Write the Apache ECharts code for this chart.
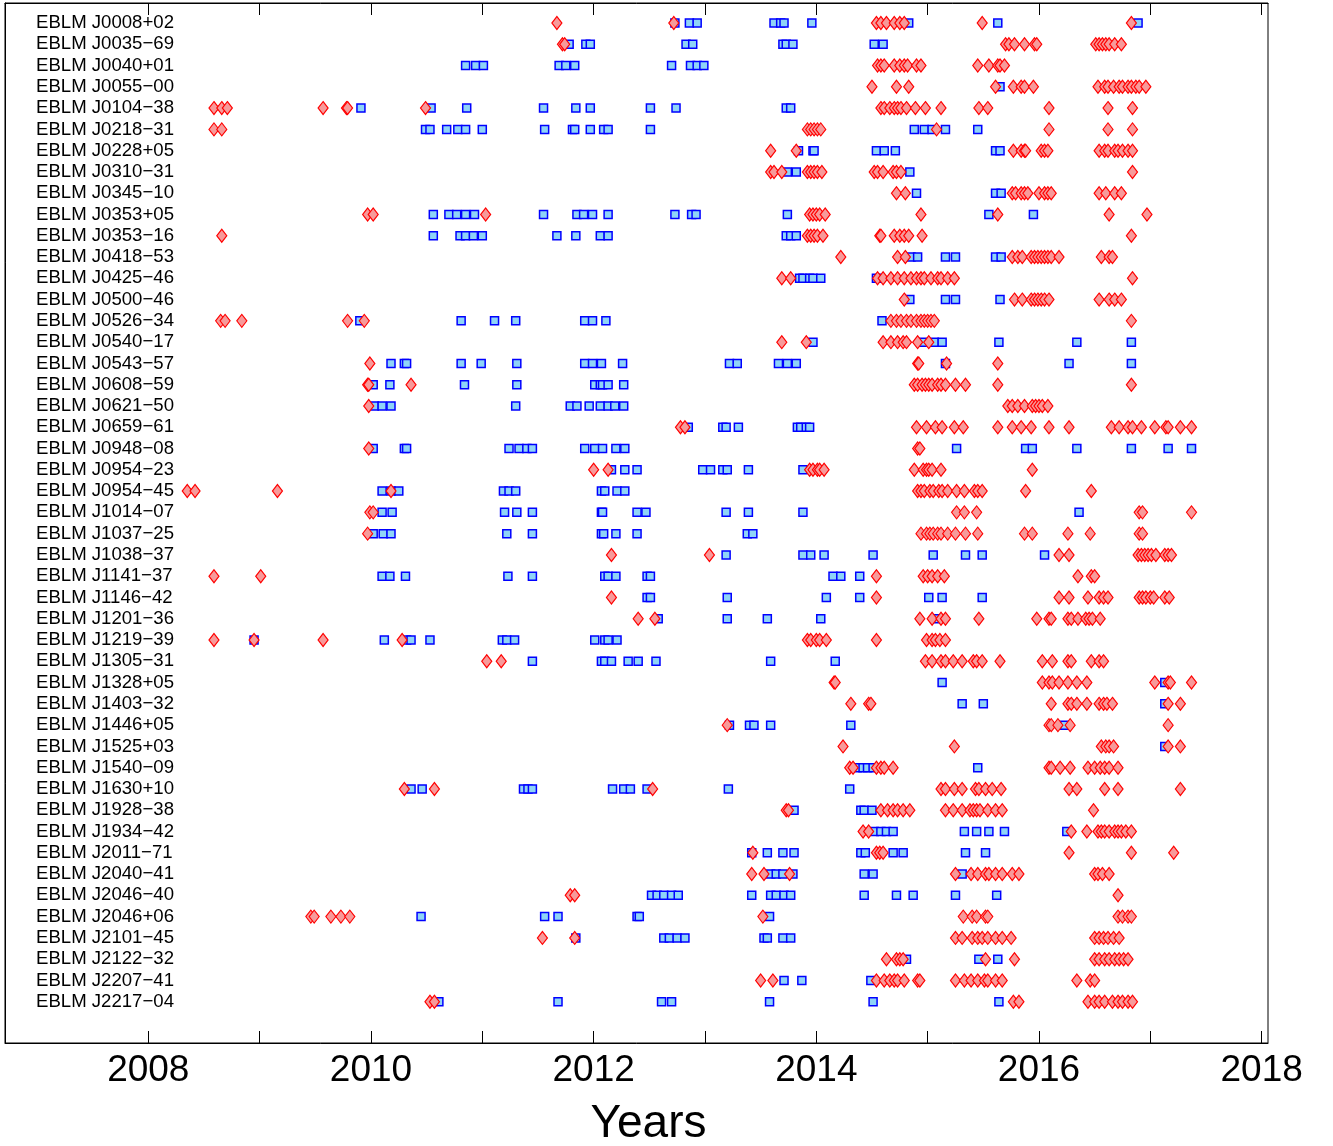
<!DOCTYPE html>
<html>
<head>
<meta charset="utf-8">
<script src="https://cdn.jsdelivr.net/npm/echarts@6/dist/echarts.min.js"></script>
<style>html,body{margin:0;padding:0;background:#fff;}#c{width:1333px;height:1146px;}</style>
</head>
<body>
<div id="c"></div>
<script>
const names = ["EBLM J0008+02","EBLM J0035\u221269","EBLM J0040+01","EBLM J0055\u221200","EBLM J0104\u221238","EBLM J0218\u221231","EBLM J0228+05","EBLM J0310\u221231","EBLM J0345\u221210","EBLM J0353+05","EBLM J0353\u221216","EBLM J0418\u221253","EBLM J0425\u221246","EBLM J0500\u221246","EBLM J0526\u221234","EBLM J0540\u221217","EBLM J0543\u221257","EBLM J0608\u221259","EBLM J0621\u221250","EBLM J0659\u221261","EBLM J0948\u221208","EBLM J0954\u221223","EBLM J0954\u221245","EBLM J1014\u221207","EBLM J1037\u221225","EBLM J1038\u221237","EBLM J1141\u221237","EBLM J1146\u221242","EBLM J1201\u221236","EBLM J1219\u221239","EBLM J1305\u221231","EBLM J1328+05","EBLM J1403\u221232","EBLM J1446+05","EBLM J1525+03","EBLM J1540\u221209","EBLM J1630+10","EBLM J1928\u221238","EBLM J1934\u221242","EBLM J2011\u221271","EBLM J2040\u221241","EBLM J2046\u221240","EBLM J2046+06","EBLM J2101\u221245","EBLM J2122\u221232","EBLM J2207\u221241","EBLM J2217\u221204"];

// observation epochs (decimal years), one list per target
const blueTimes = [
[2012.73,2012.86,2012.93,2013.62,2013.68,2013.71,2013.96,2014.83,2015.63,2016.89],
[2011.78,2011.93,2011.97,2012.83,2012.89,2013.70,2013.73,2013.79,2014.52,2014.60],
[2010.85,2010.94,2011.01,2011.69,2011.75,2011.83,2012.70,2012.87,2012.93,2012.99],
[2015.65],
[2009.91,2010.54,2010.86,2011.55,2011.84,2011.97,2012.51,2012.74,2013.73,2013.77],
[2010.49,2010.53,2010.68,2010.78,2010.85,2011.00,2011.56,2011.81,2011.83,2011.97,2012.09,2012.13,2012.51,2014.88,2014.97,2015.04,2015.16,2015.45],
[2013.84,2013.97,2013.98,2014.54,2014.61,2014.71,2015.61,2015.65],
[2013.74,2013.82,2014.84],
[2014.90,2015.61,2015.66,2015.88],
[2010.56,2010.70,2010.77,2010.85,2010.93,2011.55,2011.85,2011.91,2011.99,2012.13,2012.73,2012.88,2012.92,2013.74,2015.55,2015.95],
[2010.56,2010.80,2010.85,2010.92,2011.00,2011.67,2011.84,2012.06,2012.13,2013.73,2013.77,2013.82],
[2014.85,2014.91,2015.16,2015.25,2015.61,2015.66],
[2013.85,2013.88,2013.94,2013.97,2014.04,2014.54],
[2014.84,2015.16,2015.25,2015.65],
[2009.90,2010.81,2011.11,2011.30,2011.92,2011.99,2012.11,2014.59],
[2013.97,2014.96,2015.06,2015.13,2015.64,2016.34,2016.83],
[2010.18,2010.30,2010.32,2010.81,2010.99,2011.31,2011.92,2011.99,2012.07,2012.26,2013.22,2013.29,2013.66,2013.74,2013.82,2015.16,2016.27,2016.83],
[2010.02,2010.17,2010.84,2011.31,2012.01,2012.06,2012.08,2012.13,2012.27],
[2010.03,2010.10,2010.18,2011.30,2011.79,2011.85,2011.96,2012.06,2012.13,2012.19,2012.27],
[2012.85,2013.16,2013.19,2013.30,2013.83,2013.86,2013.91,2013.94],
[2010.02,2010.30,2010.32,2011.24,2011.33,2011.40,2011.45,2011.92,2012.01,2012.08,2012.20,2012.28,2015.26,2015.88,2015.94,2016.34,2016.83,2017.16,2017.37],
[2012.16,2012.28,2012.39,2012.98,2013.05,2013.16,2013.20,2013.39,2013.88],
[2010.10,2010.18,2010.25,2011.19,2011.24,2011.30,2012.07,2012.10,2012.21,2012.28],
[2010.10,2010.19,2011.20,2011.31,2011.45,2012.07,2012.08,2012.39,2012.47,2013.19,2013.39,2013.88,2016.36],
[2010.02,2010.11,2010.18,2011.22,2011.45,2012.07,2012.09,2012.20,2012.39,2013.38,2013.43],
[2013.19,2013.88,2013.95,2014.07,2014.51,2015.05,2015.34,2015.49,2016.05],
[2010.10,2010.17,2010.31,2011.23,2011.45,2012.10,2012.13,2012.20,2012.48,2012.51,2014.15,2014.22,2014.39],
[2012.48,2012.51,2013.20,2014.09,2014.39,2015.01,2015.13,2015.49],
[2012.58,2013.20,2013.56,2014.04,2015.08],
[2008.95,2010.12,2010.32,2010.36,2010.53,2011.18,2011.22,2011.29,2012.01,2012.10,2012.13,2012.21],
[2011.45,2012.07,2012.10,2012.16,2012.31,2012.40,2012.56,2013.59,2014.17],
[2015.13,2017.13],
[2015.31,2015.50,2017.13],
[2013.22,2013.40,2013.44,2013.59,2014.31,2016.23],
[2017.13],
[2014.37,2014.42,2014.46,2014.51,2015.45],
[2010.36,2010.46,2011.37,2011.41,2011.45,2012.17,2012.27,2012.33,2012.48,2013.21,2014.30],
[2013.80,2014.40,2014.43,2014.50],
[2014.52,2014.58,2014.63,2014.69,2015.33,2015.44,2015.55,2015.69,2016.25],
[2013.42,2013.56,2013.70,2013.80,2014.40,2014.44,2014.69,2014.78,2015.34,2015.52],
[2013.59,2013.64,2013.70,2013.79,2014.43,2014.51,2015.31],
[2012.52,2012.57,2012.63,2012.70,2012.76,2013.42,2013.59,2013.64,2013.71,2013.77,2014.43,2014.72,2014.87,2015.25,2015.62],
[2010.45,2011.56,2011.68,2012.39,2012.41,2013.58],
[2011.84,2012.63,2012.68,2012.75,2012.82,2013.53,2013.56,2013.70,2013.77],
[2014.81,2015.46,2015.63],
[2013.71,2013.87,2014.49],
[2010.61,2011.68,2012.61,2012.70,2013.58,2014.51,2015.64]
];

const redTimes = [
[2011.67,2012.72,2014.54,2014.58,2014.63,2014.70,2014.75,2014.79,2015.49,2016.83],
[2011.72,2011.74,2015.70,2015.73,2015.78,2015.87,2015.96,2015.98,2016.51,2016.54,2016.57,2016.60,2016.63,2016.68,2016.74],
[2014.55,2014.58,2014.61,2014.70,2014.75,2014.79,2014.82,2014.90,2014.94,2015.45,2015.55,2015.63,2015.65,2015.69],
[2014.50,2014.72,2014.83,2015.61,2015.77,2015.84,2015.87,2015.95,2016.53,2016.59,2016.62,2016.67,2016.72,2016.75,2016.80,2016.83,2016.87,2016.90,2016.96],
[2008.59,2008.66,2008.71,2009.57,2009.78,2009.79,2010.49,2014.58,2014.61,2014.66,2014.70,2014.73,2014.76,2014.81,2014.89,2014.98,2015.12,2015.46,2015.54,2016.09,2016.62,2016.84],
[2008.59,2008.66,2013.92,2013.95,2013.98,2014.01,2014.04,2015.08,2016.09,2016.62,2016.84],
[2013.59,2013.82,2015.77,2015.84,2015.87,2015.88,2016.02,2016.05,2016.08,2016.54,2016.59,2016.62,2016.68,2016.71,2016.75,2016.80,2016.84],
[2013.59,2013.62,2013.69,2013.92,2013.95,2013.98,2014.01,2014.05,2014.52,2014.55,2014.60,2014.69,2014.72,2014.76,2016.84],
[2014.72,2014.80,2015.76,2015.79,2015.84,2015.87,2015.90,2016.00,2016.05,2016.08,2016.11,2016.54,2016.60,2016.68,2016.74],
[2009.97,2010.02,2011.03,2013.94,2013.97,2014.00,2014.03,2014.08,2014.94,2015.63,2016.63,2016.97],
[2008.66,2013.92,2013.95,2013.98,2014.01,2014.06,2014.57,2014.58,2014.70,2014.75,2014.79,2014.83,2014.95,2016.83],
[2014.22,2014.73,2014.80,2015.76,2015.81,2015.85,2015.93,2015.96,2015.99,2016.02,2016.05,2016.08,2016.11,2016.18,2016.56,2016.63,2016.66],
[2013.69,2013.77,2014.55,2014.60,2014.67,2014.73,2014.79,2014.85,2014.90,2014.94,2014.97,2015.03,2015.09,2015.12,2015.18,2015.24,2016.84],
[2014.79,2015.78,2015.85,2015.93,2015.96,2015.99,2016.02,2016.05,2016.09,2016.54,2016.63,2016.68,2016.74],
[2008.65,2008.69,2008.84,2009.79,2009.94,2014.67,2014.72,2014.76,2014.81,2014.85,2014.90,2014.94,2014.97,2015.00,2015.03,2015.06,2016.83],
[2013.69,2013.91,2014.60,2014.67,2014.73,2014.78,2014.81,2014.91,2015.01],
[2009.99,2014.91,2014.92,2015.17,2015.63],
[2009.97,2009.98,2010.36,2014.88,2014.91,2014.95,2014.98,2015.01,2015.04,2015.09,2015.12,2015.16,2015.25,2015.34,2015.63,2016.83],
[2009.98,2015.72,2015.76,2015.81,2015.87,2015.94,2015.97,2016.00,2016.03,2016.08],
[2012.78,2012.82,2014.90,2014.99,2015.07,2015.13,2015.24,2015.32,2015.63,2015.76,2015.84,2015.93,2016.09,2016.27,2016.65,2016.72,2016.80,2016.84,2016.92,2017.04,2017.14,2017.16,2017.27,2017.37],
[2009.98,2014.91,2014.93],
[2012.00,2012.13,2013.94,2013.97,2014.01,2014.03,2014.07,2014.88,2014.96,2014.99,2015.01,2015.04,2015.12,2015.94],
[2008.35,2008.42,2009.16,2010.18,2014.91,2014.94,2014.97,2015.02,2015.05,2015.10,2015.13,2015.18,2015.26,2015.33,2015.42,2015.45,2015.49,2015.88,2016.47],
[2009.99,2010.02,2015.26,2015.33,2015.44,2016.90,2016.93,2017.37],
[2009.97,2014.94,2014.99,2015.02,2015.05,2015.09,2015.12,2015.18,2015.25,2015.34,2015.45,2015.87,2015.94,2016.26,2016.46,2016.90,2016.93],
[2012.16,2013.04,2016.18,2016.27,2016.89,2016.92,2016.95,2016.98,2017.01,2017.05,2017.13,2017.16,2017.19],
[2008.59,2009.01,2014.54,2014.96,2015.00,2015.04,2015.09,2015.15,2016.35,2016.47,2016.50],
[2012.16,2014.54,2016.18,2016.27,2016.44,2016.54,2016.58,2016.62,2016.90,2016.93,2016.96,2017.00,2017.03,2017.13,2017.17],
[2012.40,2012.55,2014.93,2015.04,2015.12,2015.16,2015.46,2015.98,2016.09,2016.11,2016.26,2016.29,2016.35,2016.42,2016.45,2016.48,2016.55],
[2008.59,2008.95,2009.57,2010.28,2013.92,2013.95,2014.00,2014.03,2014.09,2014.54,2014.99,2015.04,2015.07,2015.11,2015.16],
[2011.04,2011.17,2014.98,2015.04,2015.12,2015.16,2015.23,2015.31,2015.41,2015.44,2015.49,2015.65,2016.03,2016.12,2016.26,2016.29,2016.47,2016.54,2016.58],
[2014.16,2014.17,2016.03,2016.09,2016.12,2016.18,2016.26,2016.34,2016.43,2017.04,2017.16,2017.18,2017.37],
[2014.31,2014.47,2014.49,2016.11,2016.26,2016.29,2016.34,2016.43,2016.54,2016.58,2016.61,2016.66,2017.16,2017.27],
[2013.20,2016.09,2016.11,2016.17,2016.28,2017.16],
[2014.24,2015.24,2016.56,2016.60,2016.63,2016.67,2017.16,2017.27],
[2014.30,2014.33,2014.54,2014.58,2014.61,2014.69,2016.09,2016.11,2016.19,2016.28,2016.44,2016.50,2016.55,2016.59,2016.63,2016.71],
[2010.30,2010.57,2012.53,2015.12,2015.16,2015.24,2015.31,2015.43,2015.46,2015.52,2015.58,2015.66,2016.27,2016.34,2016.59,2016.71,2017.27],
[2013.73,2013.75,2014.58,2014.64,2014.69,2014.73,2014.78,2014.84,2015.16,2015.23,2015.31,2015.38,2015.41,2015.44,2015.47,2015.54,2015.61,2015.67,2016.49],
[2014.42,2014.47,2016.29,2016.43,2016.53,2016.56,2016.59,2016.63,2016.68,2016.71,2016.74,2016.78,2016.83],
[2013.43,2014.54,2014.57,2014.60,2016.27,2016.83,2017.21],
[2013.42,2013.53,2013.76,2015.25,2015.39,2015.45,2015.52,2015.55,2015.61,2015.67,2015.76,2015.82,2016.50,2016.53,2016.57,2016.63],
[2011.79,2011.83,2016.71],
[2009.46,2009.49,2009.64,2009.73,2009.81,2013.52,2015.32,2015.40,2015.44,2015.52,2015.54,2016.71,2016.75,2016.80,2016.83],
[2011.54,2011.83,2015.25,2015.31,2015.40,2015.45,2015.49,2015.54,2015.61,2015.67,2015.75,2016.50,2016.54,2016.58,2016.62,2016.67,2016.72],
[2014.63,2014.72,2014.75,2014.78,2015.52,2015.78,2016.50,2016.54,2016.59,2016.63,2016.68,2016.72,2016.76,2016.80],
[2013.50,2013.61,2014.54,2014.61,2014.66,2014.70,2014.73,2014.79,2014.91,2014.93,2015.25,2015.33,2015.39,2015.45,2015.51,2015.54,2015.61,2015.67,2016.34,2016.46,2016.50],
[2010.53,2010.57,2015.77,2015.82,2016.44,2016.50,2016.54,2016.59,2016.66,2016.71,2016.75,2016.80,2016.84]
];

const tickYears = [2008,2009,2010,2011,2012,2013,2014,2015,2016,2017,2018];
const labelYears = [2008,2010,2012,2014,2016,2018];
const rowIndex = names.map((n, i) => i + 1);

function toPoints(lists) {
  const pts = [];
  lists.forEach((arr, i) => arr.forEach(t => pts.push([t, i + 1])));
  return pts;
}

const FONT = 'Liberation Sans, Arial, Helvetica, sans-serif';
const XMIN = 2006.713, XMAX = 2018.057;

const chart = echarts.init(document.getElementById('c'), null, {renderer: 'canvas'});
chart.setOption({
  animation: false,
  backgroundColor: '#fff',
  grid: {left: 5, top: 3, width: 1263, height: 1040, containLabel: false, outerBoundsMode: 'none',
    show: true, borderColor: '#000', borderWidth: 1, backgroundColor: 'transparent'},
  xAxis: [{
    type: 'value', position: 'bottom', min: XMIN, max: XMAX,
    axisLine: {show: true, onZero: false, lineStyle: {color: '#000', width: 1}},
    axisTick: {show: true, inside: true, length: 12, customValues: tickYears, lineStyle: {color: '#000', width: 1}},
    axisLabel: {show: true, customValues: labelYears, margin: 9, fontSize: 37, color: '#000', fontFamily: FONT, formatter: v => String(Math.round(v))},
    splitLine: {show: false},
    name: 'Years', nameLocation: 'middle', nameGap: 58,
    nameTextStyle: {fontSize: 46, color: '#000', fontFamily: FONT, padding: [0, 0, 0, 24]}
  }, {
    type: 'value', position: 'top', min: XMIN, max: XMAX,
    axisLine: {show: true, onZero: false, lineStyle: {color: '#000', width: 1}},
    axisTick: {show: true, inside: true, length: 12, customValues: tickYears, lineStyle: {color: '#000', width: 1}},
    axisLabel: {show: false},
    splitLine: {show: false}
  }],
  yAxis: {
    type: 'value', inverse: true, min: 0.06, max: 48.94,
    axisLine: {show: true, onZero: false, lineStyle: {color: '#000', width: 1}},
    axisTick: {show: false},
    splitLine: {show: false},
    axisLabel: {show: true, inside: true, margin: 31, customValues: rowIndex, fontSize: 18.6, color: '#000', fontFamily: FONT,
      formatter: v => names[Math.round(v) - 1] || ''}
  },
  series: [{
    type: 'scatter', xAxisIndex: 0, data: toPoints(blueTimes),
    symbol: 'rect', symbolSize: 8,
    itemStyle: {color: '#8fd4f7', borderColor: '#0000ff', borderWidth: 1.5, opacity: 1},
    emphasis: {disabled: true}
  }, {
    type: 'scatter', xAxisIndex: 0, data: toPoints(redTimes),
    symbol: 'diamond', symbolSize: [10, 13],
    itemStyle: {color: '#f79a9a', borderColor: '#ff0000', borderWidth: 1.2, opacity: 1},
    emphasis: {disabled: true}
  }]
});
</script>
</body>
</html>
